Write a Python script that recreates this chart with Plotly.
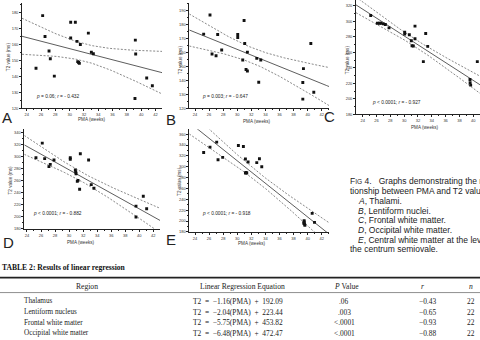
import numpy as np
import plotly.graph_objects as go

W, H = 480, 340

# ---------------- data ----------------
a_pma = [26.23, 26.56, 27.12, 27.30, 25.30, 27.86, 30.15, 30.80, 30.15, 31.03, 31.50,
         31.13, 31.36, 31.26, 32.62, 33.04, 33.32, 39.19, 39.24, 39.14, 40.78, 41.57]
a_t2 = [177.9, 164.9, 155.8, 151.0, 145.0, 140.1, 173.8, 173.8, 163.9, 161.8, 159.9,
        149.2, 148.1, 148.6, 167.0, 155.0, 154.1, 162.6, 153.9, 126.2, 139.0, 134.1]

b_pma = [26.13, 25.23, 27.22, 30.07, 30.07, 30.97, 31.06, 27.79, 26.42, 26.99, 31.44,
         30.78, 31.25, 31.44, 32.77, 33.34, 33.05, 40.45, 39.40, 39.31, 39.31, 40.87]
b_t2 = [186.9, 173.2, 172.9, 172.9, 170.8, 182.9, 166.5, 161.8, 158.9, 157.7, 160.3,
        154.6, 147.8, 146.8, 155.8, 154.6, 138.7, 166.5, 148.5, 138.5, 126.6, 131.5]

c_pma = [25.16, 26.12, 26.41, 26.65, 26.99, 27.28, 27.81, 30.08, 30.08, 30.75, 31.04,
         31.14, 31.33, 31.57, 31.57, 33.12, 33.41, 32.78, 39.53, 39.55, 39.63, 40.59]
c_t2 = [307.6, 297.7, 297.7, 297.7, 296.9, 296.0, 291.7, 286.2, 283.6, 282.8, 275.1,
        268.6, 268.2, 277.6, 293.9, 284.5, 267.8, 248.1, 225.0, 221.0, 217.7, 248.1]

d_pma = [26.18, 25.28, 26.52, 27.85, 27.32, 27.13, 30.17, 30.17, 30.89, 30.95, 30.99,
         31.17, 31.27, 31.60, 31.50, 32.78, 33.16, 33.54, 39.53, 39.53, 40.57, 41.05]
d_t2 = [322.4, 298.2, 296.6, 294.4, 287.2, 283.4, 298.2, 295.5, 277.7, 274.5, 271.6,
        259.0, 260.6, 304.7, 245.8, 294.4, 253.5, 247.5, 217.8, 199.7, 234.3, 213.4]

e_pma = [25.23, 26.13, 27.08, 27.27, 27.93, 30.16, 30.87, 31.16, 31.54, 31.16, 31.35,
         31.25, 32.77, 33.15, 33.48, 39.50, 39.55, 39.60, 39.50, 40.64, 40.97, 39.45]
e_t2 = [326.4, 336.2, 345.4, 313.0, 317.3, 339.3, 337.5, 314.3, 308.8, 288.6, 288.6,
        289.8, 307.6, 314.9, 300.2, 198.3, 194.6, 192.2, 200.7, 214.1, 197.6, 196.0]

stats_text = ["<i>p</i> = 0.06; <i>r</i> = - 0.432",
              "<i>p</i> = 0.003; <i>r</i> = - 0.647",
              "<i>p</i> &lt; 0.0001; <i>r</i> = - 0.927",
              "<i>p</i> &lt; 0.0001; <i>r</i> = - 0.882",
              "<i>p</i> &lt; 0.0001; <i>r</i> = - 0.918"]
panel_letters = ["A", "B", "C", "D", "E"]

# Table 2
tbl_regions = ["Thalamus", "Lentiform nucleus", "Frontal white matter", "Occipital white matter"]
tbl_slopes = [-1.16, -2.04, -5.75, -6.48]
tbl_intercepts = [192.09, 223.44, 453.82, 472.47]
tbl_p = [".06", ".003", "&lt;.0001", "&lt;.0001"]
tbl_r = [-0.43, -0.65, -0.93, -0.88]
tbl_n = [22, 22, 22, 22]

T_CRIT = 2.086  # t(0.975, df=20)

# ---------------- helpers ----------------
def px(x):
    return x / W

def py(y):
    return 1 - y / H

fig = go.Figure()

e_slope, e_int = np.polyfit(e_pma, e_t2, 1)
slopes = tbl_slopes + [e_slope]
intercepts = tbl_intercepts + [e_int]
series = [(a_pma, a_t2), (b_pma, b_t2), (c_pma, c_t2), (d_pma, d_t2), (e_pma, e_t2)]

panels = [
    dict(xd=(22, 162), yd=(109, 3), xr=(23.34, 42.92), yr=(120, 185.8), ydt=10),
    dict(xd=(189.3, 329), yd=(109, 3), xr=(23.19, 43.03), yr=(120, 195.5), ydt=10),
    dict(xd=(356, 480), yd=(115, 0), xr=(23.03, 40.98), yr=(180, 327.7), ydt=20),
    dict(xd=(24.3, 160), yd=(230.3, 130), xr=(23.62, 42.95), yr=(180, 345.4), ydt=20),
    dict(xd=(189.3, 329), yd=(233.3, 130), xr=(23.19, 43.03), yr=(180, 369.2), ydt=20),
]

axis_col = "#222"
tickfont = dict(size=4, family="Liberation Sans, Arial, sans-serif", color="#333")

for i, (p, (xs, ys)) in enumerate(zip(panels, series)):
    k = "" if i == 0 else str(i + 1)
    xa, ya = "x" + k, "y" + k
    xs = np.array(xs)
    ys = np.array(ys)
    m, b = slopes[i], intercepts[i]
    n = len(xs)
    resid = ys - (m * xs + b)
    s = np.sqrt(np.sum(resid ** 2) / (n - 2))
    xbar = xs.mean()
    sxx = np.sum((xs - xbar) ** 2)
    xg = np.linspace(p["xr"][0], p["xr"][1], 120)
    yg = m * xg + b
    half = T_CRIT * s * np.sqrt(1.0 / n + (xg - xbar) ** 2 / sxx)

    for yy in (yg + half, yg - half):
        fig.add_trace(go.Scatter(x=xg, y=yy, mode="lines", xaxis=xa, yaxis=ya,
                                 line=dict(color="#555", width=0.7, dash="2px,1.6px"),
                                 hoverinfo="skip", showlegend=False))
    fig.add_trace(go.Scatter(x=xg, y=yg, mode="lines", xaxis=xa, yaxis=ya,
                             line=dict(color="#333", width=0.8),
                             hoverinfo="skip", showlegend=False))
    fig.add_trace(go.Scatter(x=xs, y=ys, mode="markers", xaxis=xa, yaxis=ya,
                             marker=dict(symbol="square", size=2.9, color="#111",
                                         line=dict(width=0)),
                             showlegend=False))

    common = dict(showline=True, linecolor=axis_col, linewidth=0.7, ticks="outside",
                  ticklen=2, tickwidth=0.5, tickcolor=axis_col, tickfont=tickfont,
                  showgrid=False, zeroline=False, fixedrange=True)
    fig.layout["xaxis" + k] = dict(
        domain=[px(p["xd"][0]), px(p["xd"][1])], range=list(p["xr"]), anchor=ya,
        tick0=24, dtick=2,
        minor=dict(ticks="outside", ticklen=1, dtick=1, tick0=24, tickcolor=axis_col, tickwidth=0.4),
        **common)
    fig.layout["yaxis" + k] = dict(
        domain=[py(p["yd"][0]), py(p["yd"][1])], range=list(p["yr"]), anchor=xa,
        tick0=p["yr"][0], dtick=p["ydt"],
        minor=dict(ticks="outside", ticklen=1, dtick=p["ydt"] / 2, tick0=p["yr"][0],
                   tickcolor=axis_col, tickwidth=0.4),
        **common)

ann = []
sans = "Liberation Sans, Arial, sans-serif"
serif = "Liberation Serif, Times New Roman, serif"


def add_text(text, x, y, size, family=sans, color="#222", xanchor="center", angle=0):
    ann.append(dict(text=text, x=px(x), y=py(y), xref="paper", yref="paper",
                    xanchor=xanchor, yanchor="middle", textangle=angle, showarrow=False,
                    font=dict(size=size, family=family, color=color)))


ytitle_pos = [(8.5, 57), (180.5, 60), (347.5, 60), (10.5, 181), (180, 183)]
xtitle_pos = [(92, 120.5), (257, 122), (425, 128.3), (81, 243.5), (252, 245)]
stats_pos = [(57, 96.7), (224.5, 97.3), (396, 102.7), (57.5, 214.3), (226, 215)]
letter_pos = [(7, 118.5), (171, 120), (329, 117), (8, 243.5), (171, 240.5)]
for i in range(5):
    add_text("T2 value (ms)", *ytitle_pos[i], 4.6, color="#333", angle=-90)
    add_text("PMA (weeks)", *xtitle_pos[i], 4.6, color="#333")
    add_text(stats_text[i], *stats_pos[i], 4.8)
    add_text(panel_letters[i], *letter_pos[i], 15)

# figure caption (right side, runs past the edge as in the source page)
cap_lines = ["F<span style='font-size:6.6px'>IG</span> 4.   Graphs demonstrating the rela-",
             "tionship between PMA and T2 values.",
             "<i>A</i>, Thalami.",
             "<i>B</i>, Lentiform nuclei.",
             "<i>C</i>, Frontal white matter.",
             "<i>D</i>, Occipital white matter.",
             "<i>E</i>, Central white matter at the level of",
             "the centrum semiovale."]
cap_x = [348, 348, 356, 356, 356, 356, 356, 348]
cap_y = [182.3, 192.2, 202.1, 212, 221.8, 231.7, 241.6, 250.5]
for t, cx, cy in zip(cap_lines, cap_x, cap_y):
    add_text(t, cx, cy, 8.5, xanchor="left")

# table
add_text("<b>TABLE 2: Results of linear regression</b>", 0, 269, 7.6, family=serif,
         color="#111", xanchor="left")
hdr_y = 288.5
for t, cx in [("Region", 87), ("Linear Regression Equation", 242),
              ("<i>P</i> Value", 346), ("<i>r</i>", 422), ("<i>n</i>", 471)]:
    add_text(t, cx, hdr_y, 7.6, family=serif)
row_y = [303.0, 314.0, 324.7, 335.4]
sp = "\u2002"
for reg, sl, ic, pv, rv, nv, ry in zip(tbl_regions, tbl_slopes, tbl_intercepts,
                                        tbl_p, tbl_r, tbl_n, row_y):
    eq = "T2%s=%s\u2212%.2f(PMA)%s+%s%.2f" % (sp, sp, abs(sl), sp, sp, ic)
    add_text(reg, 21.7, ry, 7.2, family=serif, xanchor="left")
    add_text(eq, 190.7, ry, 7.4, family=serif, xanchor="left")
    add_text(pv, 344, ry, 7.4, family=serif)
    add_text("\u2212%.2f" % abs(rv), 427, ry, 7.4, family=serif)
    add_text(str(nv), 471, ry, 7.4, family=serif)

shapes = [
    dict(type="line", xref="paper", yref="paper", x0=0, x1=1, y0=py(279.3), y1=py(279.3),
         line=dict(color="#222", width=1.6)),
    dict(type="line", xref="paper", yref="paper", x0=0, x1=1, y0=py(294.3), y1=py(294.3),
         line=dict(color="#444", width=0.6)),
]

fig.update_layout(width=W, height=H, margin=dict(l=0, r=0, t=0, b=0),
                  paper_bgcolor="white", plot_bgcolor="white",
                  annotations=ann, shapes=shapes, showlegend=False)

fig.write_html("out.html")
